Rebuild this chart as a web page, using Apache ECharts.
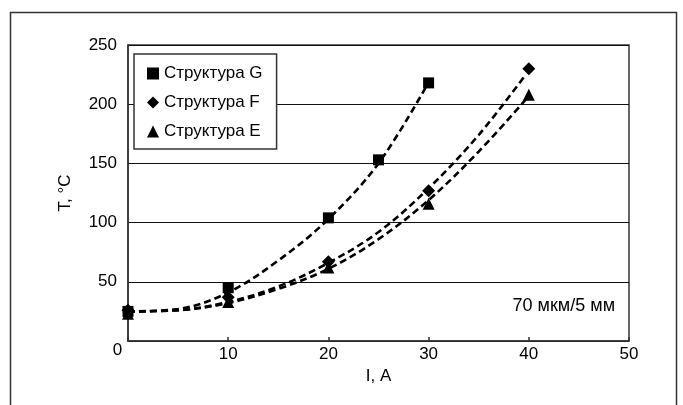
<!DOCTYPE html>
<html>
<head>
<meta charset="utf-8">
<script src="https://cdn.jsdelivr.net/npm/echarts@6/dist/echarts.min.js"></script>
<style>
html,body{margin:0;padding:0;background:#fff;}
#chart{width:683px;height:405px;}
</style>
</head>
<body>
<div id="chart"></div>
<script>
// Measured points
const seriesNames = ['Структура G', 'Структура F', 'Структура E'];
const gX = [0, 10, 20, 25, 30];
const gY = [25, 45, 104, 153, 218];
const fX = [0, 10, 20, 30, 40];
const fY = [26, 37, 67, 127, 230];
const eX = [0, 10, 20, 30, 40];
const eY = [23, 33, 62, 116, 208];
// Dashed trend curves
const gTrendX = [0, 5, 10, 15, 20, 25, 29.7];
const gTrendY = [25, 27, 41, 68, 103, 150, 214];
const fTrendX = [0, 5, 10, 15, 20, 25, 30, 35, 39.7];
const fTrendY = [25, 26, 33, 46, 66, 92, 129, 174, 225];
const eTrendX = [0, 5, 10, 15, 20, 25, 30, 35, 39.7];
const eTrendY = [25, 26, 32, 44, 61, 86, 119, 160, 204];
// Axes
const xTicks = [0, 10, 20, 30, 40, 50];
const yTicks = [0, 50, 100, 150, 200, 250];
const xName = 'I, A';
const yName = 'T, °C';
const note = '70 мкм/5 мм';

const zip = (xs, ys) => xs.map((x, i) => [x, ys[i]]);
const FONT = "'Liberation Sans', Arial, sans-serif";
const FS = 17;

const chart = echarts.init(document.getElementById('chart'), null, {renderer: 'canvas'});

const trendStyle = {color: '#000', width: 2.6, type: [7, 4]};
function trend(name, xs, ys) {
  return {
    name: name, type: 'line', data: zip(xs, ys), smooth: 0.35,
    symbol: 'none', lineStyle: trendStyle, z: 2, silent: true
  };
}
function pts(name, xs, ys, symbol, size) {
  return {
    name: name, type: 'scatter', data: zip(xs, ys), symbol: symbol,
    symbolSize: size, itemStyle: {color: '#000', opacity: 1}, z: 5
  };
}

chart.setOption({
  animation: false,
  backgroundColor: '#fff',
  textStyle: {fontFamily: FONT},
  grid: {
    left: 128, right: 54, top: 45, bottom: 64,
    show: true, borderColor: '#333', borderWidth: 1.5
  },
  xAxis: {
    type: 'value', min: xTicks[0], max: xTicks[xTicks.length - 1], interval: 10,
    name: xName, nameLocation: 'middle', nameGap: 20,
    nameTextStyle: {fontSize: FS, color: '#000', fontFamily: FONT},
    axisLine: {show: true, lineStyle: {color: '#333', width: 1.5}},
    axisTick: {show: true, inside: true, length: 4, lineStyle: {color: '#333', width: 1.5}},
    splitLine: {show: false},
    axisLabel: {
      margin: 5, fontSize: FS, color: '#000', fontFamily: FONT,
      formatter: v => v === 0 ? '{z|0}' : String(v),
      rich: {z: {fontSize: FS, color: '#000', fontFamily: FONT, padding: [0, 21, 0, 0], lineHeight: 8}}
    }
  },
  yAxis: {
    type: 'value', min: yTicks[0], max: yTicks[yTicks.length - 1], interval: 50,
    name: yName, nameLocation: 'middle', nameGap: 54,
    nameTextStyle: {fontSize: FS, color: '#000', fontFamily: FONT},
    axisLine: {show: true, lineStyle: {color: '#333', width: 1.5}},
    axisTick: {show: false},
    splitLine: {show: true, lineStyle: {color: '#111', width: 1}},
    axisLabel: {
      margin: 11, fontSize: FS, color: '#000', fontFamily: FONT,
      formatter: v => v === 0 ? '' : String(v)
    }
  },
  legend: {
    left: 134, top: 54, orient: 'vertical',
    data: [
      {name: seriesNames[0], icon: 'rect'},
      {name: seriesNames[1], icon: 'diamond'},
      {name: seriesNames[2], icon: 'triangle'}
    ],
    itemWidth: 12, itemHeight: 12, itemGap: 12,
    padding: [11, 14, 9, 13],
    backgroundColor: '#fff', borderColor: '#333', borderWidth: 1.5, borderRadius: 0,
    textStyle: {fontSize: FS, color: '#000', fontFamily: FONT, lineHeight: 16},
    itemStyle: {color: '#000', opacity: 1},
    selectedMode: false
  },
  graphic: [
    {type: 'rect', left: 8, top: 10, shape: {width: 666, height: 420},
     style: {fill: 'none', stroke: '#333', lineWidth: 1.5}, silent: true, z: -10},
    {type: 'text', right: 68, top: 297,
     style: {text: note, font: "18px " + FONT, fill: '#000'}, z: 10}
  ],
  series: [
    trend('trendG', gTrendX, gTrendY),
    trend('trendF', fTrendX, fTrendY),
    trend('trendE', eTrendX, eTrendY),
    pts(seriesNames[0], gX, gY, 'rect', 11),
    pts(seriesNames[1], fX, fY, 'diamond', 13),
    pts(seriesNames[2], eX, eY, 'triangle', 12)
  ]
});
</script>
</body>
</html>
